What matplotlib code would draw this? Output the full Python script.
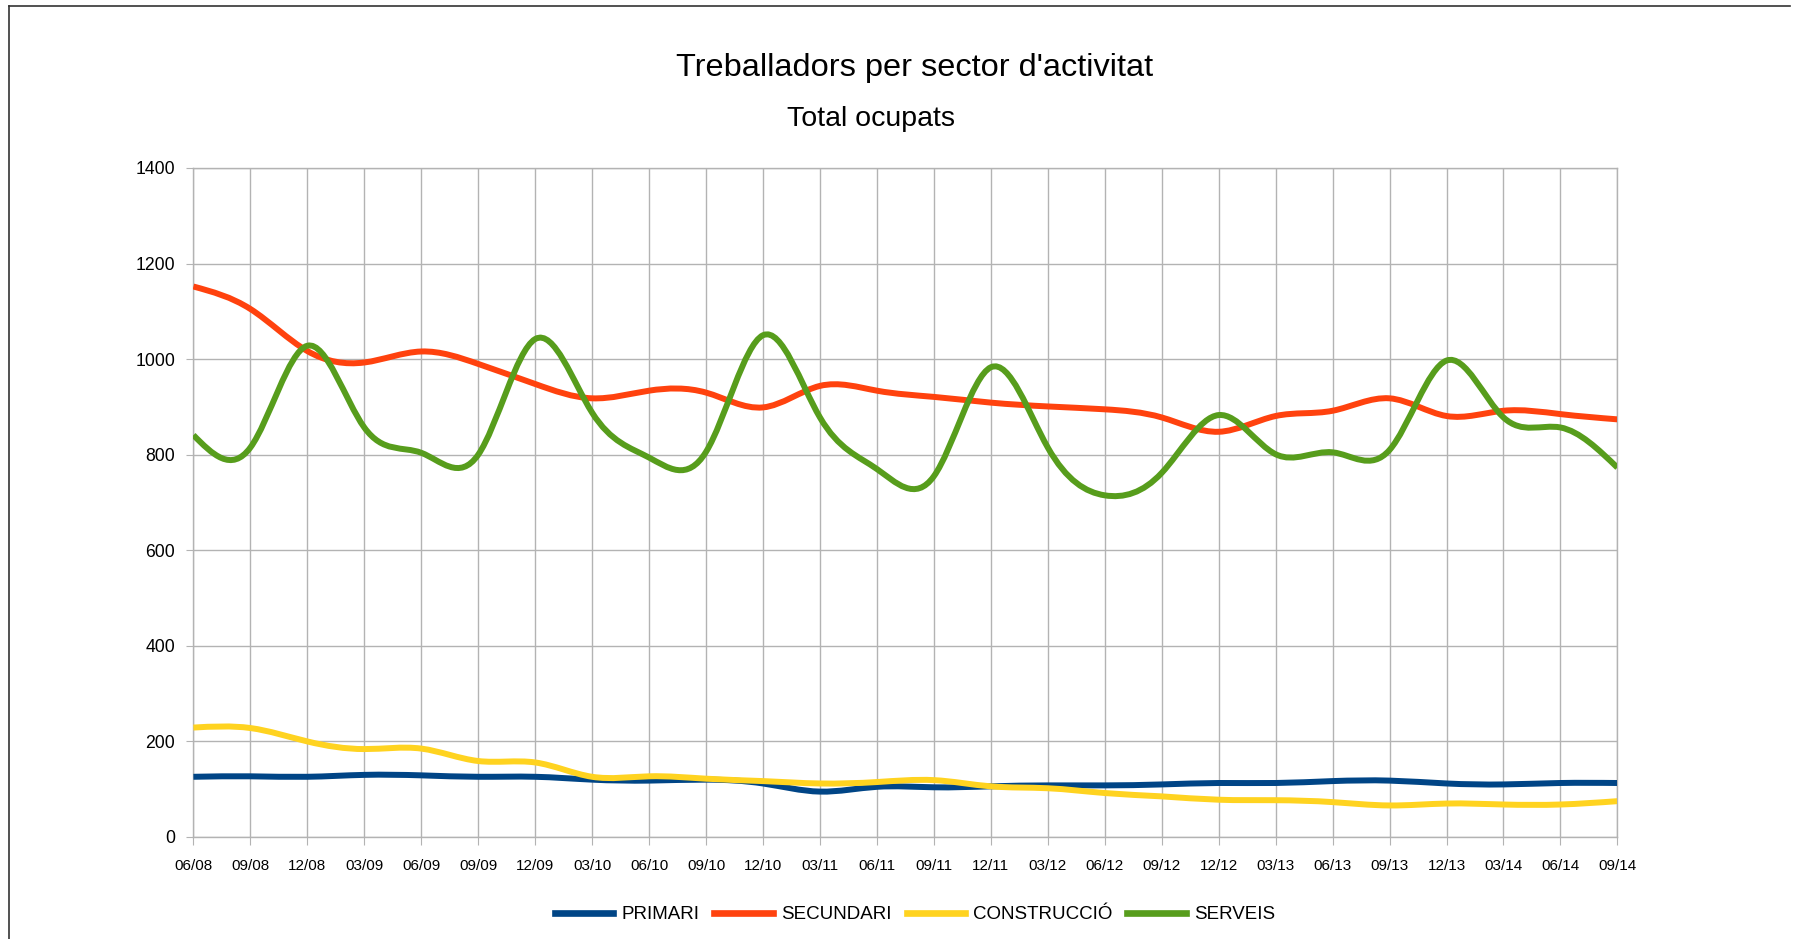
import numpy as np
import matplotlib
matplotlib.use('Agg')
import matplotlib.pyplot as plt
from matplotlib.path import Path
from matplotlib.patches import PathPatch
from matplotlib.lines import Line2D

plt.rcParams['font.family'] = ['Liberation Sans', 'DejaVu Sans']

# Dades (milers de treballadors)
trimestres = ['06/08', '09/08', '12/08', '03/09', '06/09', '09/09', '12/09', '03/10', '06/10',
              '09/10', '12/10', '03/11', '06/11', '09/11', '12/11', '03/12', '06/12', '09/12',
              '12/12', '03/13', '06/13', '09/13', '12/13', '03/14', '06/14', '09/14']

primari = [126, 127, 126, 130, 129, 126, 126, 120, 118, 120, 112, 95, 105,
           104, 106, 108, 108, 110, 113, 113, 117, 118, 112, 110, 113, 113]
secundari = [1152, 1105, 1017, 993, 1016, 990, 948, 918, 934, 930, 899, 944, 934,
             921, 909, 901, 895, 878, 848, 881, 892, 918, 881, 892, 885, 874]
construccio = [229, 228, 200, 184, 185, 159, 156, 126, 127, 122, 117, 112, 115,
               119, 106, 102, 92, 85, 78, 77, 73, 66, 70, 68, 68, 75]
serveis = [841, 815, 1028, 857, 804, 800, 1042, 888, 794, 806, 1050, 878, 770,
           755, 983, 815, 715, 762, 883, 801, 805, 810, 997, 878, 857, 773]

noms = ['PRIMARI', 'SECUNDARI', 'CONSTRUCCIÓ', 'SERVEIS']
colors = ['#004586', '#ff420e', '#ffd320', '#579d1c']


# Corba suau (spline cúbica natural) dibuixada com a path de Bézier
def spline_path(x, y):
    x = np.asarray(x, float)
    y = np.asarray(y, float)
    n = len(x)
    A = np.zeros((n, n))
    r = np.zeros(n)
    A[0, 0] = 1
    A[-1, -1] = 1
    for i in range(1, n - 1):
        A[i, i - 1] = 1
        A[i, i] = 4
        A[i, i + 1] = 1
        r[i] = 6 * (y[i + 1] - 2 * y[i] + y[i - 1])
    M = np.linalg.solve(A, r)
    d = np.zeros(n)
    for i in range(n - 1):
        d[i] = (y[i + 1] - y[i]) - (2 * M[i] + M[i + 1]) / 6
    d[-1] = (y[-1] - y[-2]) + (M[-2] + 2 * M[-1]) / 6
    verts = [(x[0], y[0])]
    codes = [Path.MOVETO]
    for i in range(n - 1):
        verts += [(x[i] + 1 / 3, y[i] + d[i] / 3),
                  (x[i + 1] - 1 / 3, y[i + 1] - d[i + 1] / 3),
                  (x[i + 1], y[i + 1])]
        codes += [Path.CURVE4] * 3
    return Path(verts, codes)


fig = plt.figure(figsize=(18.05, 9.39), dpi=100)
ax = fig.add_axes([0.10715, 0.10863, 0.78892, 0.71246])

x = np.arange(len(trimestres))
for serie, c in zip([primari, secundari, construccio, serveis], colors):
    ax.add_patch(PathPatch(spline_path(x, serie), fill=False, edgecolor=c,
                           lw=4.3, joinstyle='round', capstyle='butt', zorder=3))

ax.set_xlim(0, len(trimestres) - 1)
ax.set_ylim(0, 1400)
ax.set_xticks(x)
ax.set_xticklabels(trimestres, fontsize=11)
ax.set_yticks(np.arange(0, 1401, 200))
ax.tick_params(axis='y', labelsize=12.7, length=5, pad=8, color='#b3b3b3')
ax.tick_params(axis='x', length=6, pad=10, color='#b3b3b3')
ax.grid(True, color='#b3b3b3', lw=1.0)
ax.set_axisbelow(True)
for s in ax.spines.values():
    s.set_color('#b3b3b3')
    s.set_linewidth(1.0)

fig.text(915 / 1805, 1 - 68 / 939, "Treballadors per sector d'activitat",
         fontsize=23.4, ha='center', va='center')
fig.text(871 / 1805, 1 - 118.5 / 939, 'Total ocupats', fontsize=20.5, ha='center', va='center')

handles = [Line2D([], [], color=c, lw=4.8) for c in colors]
fig.legend(handles, noms, loc='center', bbox_to_anchor=(915 / 1805, 1 - 914.5 / 939),
           ncol=4, frameon=False, fontsize=13.5, handlelength=3.1,
           handletextpad=0.45, columnspacing=0.8)

# vora de la captura
fig.add_artist(Line2D([9 / 1805, 9 / 1805], [0, 1 - 6 / 939], color='#333333', lw=1.2))
fig.add_artist(Line2D([9 / 1805, 1790 / 1805], [1 - 6 / 939, 1 - 6 / 939], color='#333333', lw=1.2))

fig.savefig('out.png', dpi=100)
